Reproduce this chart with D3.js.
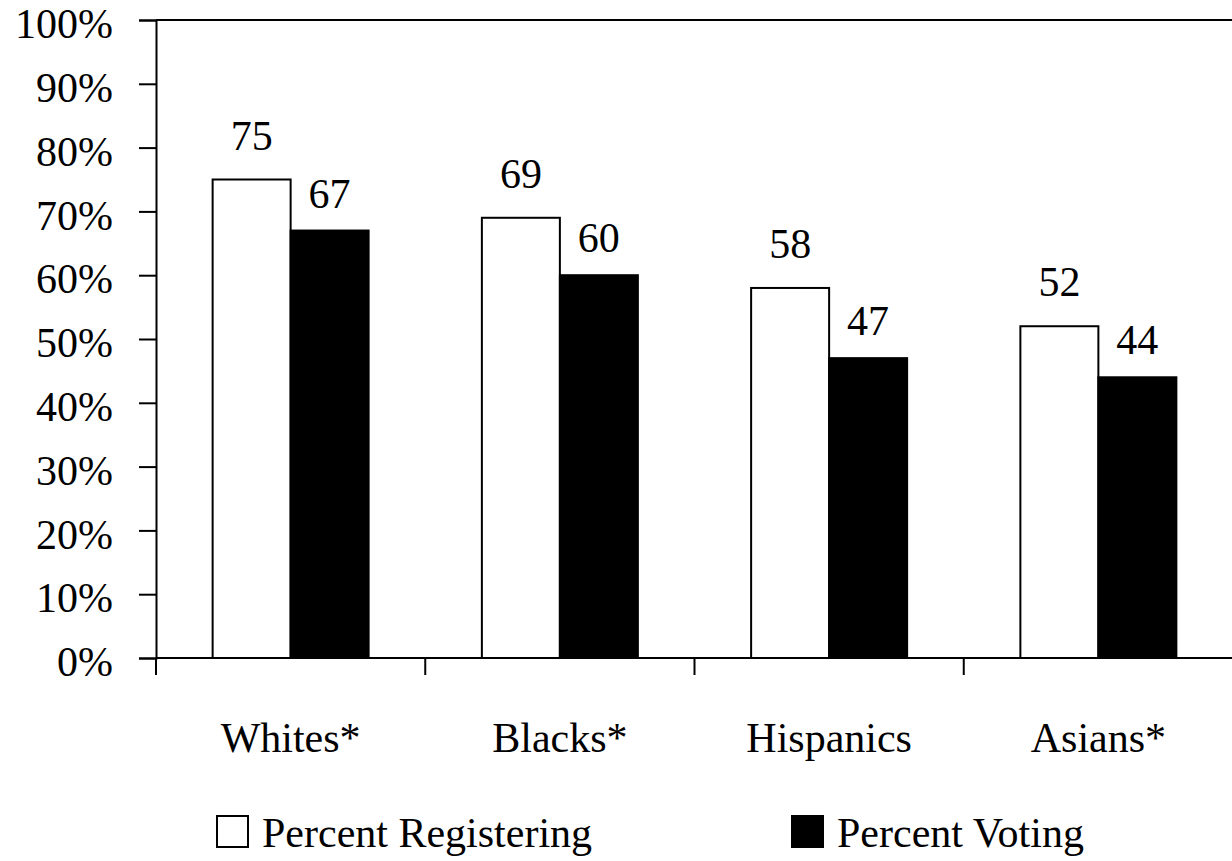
<!DOCTYPE html>
<html>
<head>
<meta charset="utf-8">
<script src="https://cdn.jsdelivr.net/npm/d3@7"></script>
<style>
  html, body { margin: 0; padding: 0; background: #fff; }
  svg { display: block; }
</style>
</head>
<body>
<svg id="chart" width="1232" height="861"></svg>
<script>
const categories = ["Whites*", "Blacks*", "Hispanics", "Asians*"];
const seriesNames = ["Percent Registering", "Percent Voting"];
const registering = [75, 69, 58, 52];
const voting = [67, 60, 47, 44];
const yTicks = [0, 10, 20, 30, 40, 50, 60, 70, 80, 90, 100];

const FONT = "'Liberation Serif', Tinos, 'Times New Roman', Times, 'DejaVu Serif', 'Noto Serif', serif";
const svg = d3.select("#chart");
const W = 1232, H = 861;
const plotLeft = 156, plotRight = 1233, plotTop = 20, plotBottom = 658;
const fontSize = 42;

const x = d3.scaleBand().domain(categories).range([plotLeft, plotRight]).padding(0);
const xs = d3.scaleBand().domain(seriesNames).range([0, x.bandwidth()])
  .paddingInner(0).paddingOuter(0.726);
const y = d3.scaleLinear().domain([0, 100]).range([plotBottom, plotTop]);

const data = categories.map((c, i) => ({
  cat: c,
  vals: [
    { s: seriesNames[0], v: registering[i] },
    { s: seriesNames[1], v: voting[i] }
  ]
}));

// top frame line
svg.append("line")
  .attr("x1", plotLeft).attr("x2", W).attr("y1", y(100)).attr("y2", y(100))
  .attr("stroke", "#000").attr("stroke-width", 2);

// bars
const groups = svg.append("g").selectAll("g").data(data).join("g")
  .attr("transform", d => `translate(${x(d.cat)},0)`);

groups.selectAll("rect").data(d => d.vals).join("rect")
  .attr("x", d => xs(d.s))
  .attr("y", d => y(d.v))
  .attr("width", xs.bandwidth())
  .attr("height", d => y(0) - y(d.v))
  .attr("fill", d => d.s === seriesNames[0] ? "#fff" : "#000")
  .attr("stroke", "#000")
  .attr("stroke-width", 2);

groups.selectAll("text.val").data(d => d.vals).join("text")
  .attr("class", "val")
  .attr("x", d => xs(d.s) + xs.bandwidth() / 2)
  .attr("y", d => y(d.v) - (d.s === seriesNames[0] ? 30 : 23))
  .attr("text-anchor", "middle")
  .text(d => d.v);

// y axis
const yAxis = d3.axisLeft(y).tickValues(yTicks).tickSize(17).tickPadding(26)
  .tickFormat(d => d + "%");
const gy = svg.append("g").attr("transform", `translate(${plotLeft},0)`).call(yAxis);
gy.attr("font-family", null).attr("font-size", null);
gy.select(".domain").attr("stroke", "#000").attr("stroke-width", 2);
gy.selectAll(".tick line").attr("stroke", "#000").attr("stroke-width", 2);
gy.selectAll(".tick text")
  .attr("dy", "0.42em")
  .attr("fill", "#000");

// x axis
const gx = svg.append("g").attr("transform", `translate(0,${plotBottom})`);
gx.append("line").attr("x1", plotLeft).attr("x2", W).attr("y1", 0).attr("y2", 0)
  .attr("stroke", "#000").attr("stroke-width", 2);
const boundaries = categories.map(c => x(c)).concat([x(categories[categories.length - 1]) + x.bandwidth()]);
gx.selectAll("line.tk").data(boundaries).join("line")
  .attr("class", "tk")
  .attr("x1", d => d).attr("x2", d => d)
  .attr("y1", 0).attr("y2", 17)
  .attr("stroke", "#000").attr("stroke-width", 2);
gx.selectAll("text").data(categories).join("text")
  .attr("x", d => x(d) + x.bandwidth() / 2)
  .attr("y", 94)
  .attr("text-anchor", "middle")
  .text(d => d);

// legend
const legendX = [217, 792];
const leg = svg.append("g").selectAll("g").data(seriesNames).join("g")
  .attr("transform", (d, i) => `translate(${legendX[i]},816)`);
leg.append("rect")
  .attr("x", 0).attr("y", 0).attr("width", 31).attr("height", 31)
  .attr("fill", (d, i) => i === 0 ? "#fff" : "#000")
  .attr("stroke", "#000").attr("stroke-width", 2);
leg.append("text")
  .attr("x", 45).attr("y", 31)
  .text(d => d);

// apply font to every text element inline
svg.selectAll("text")
  .attr("font-family", FONT)
  .attr("font-size", fontSize)
  .style("font-family", FONT)
  .style("font-size", fontSize + "px")
  .style("fill", "#000");
</script>
</body>
</html>
